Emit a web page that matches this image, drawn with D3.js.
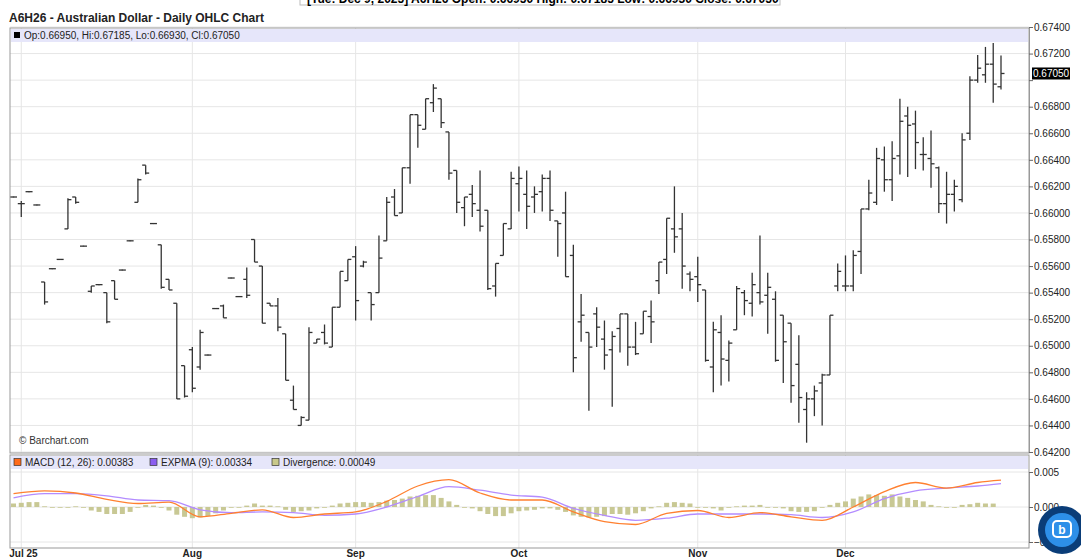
<!DOCTYPE html>
<html>
<head>
<meta charset="utf-8">
<script src="https://d3js.org/d3.v7.min.js"></script>
<style>
  body { margin: 0; background: #fff; font-family: "Liberation Sans", Arial, sans-serif; }
  svg text { font-family: "Liberation Sans", Arial, sans-serif; }
</style>
</head>
<body>
<svg id="chart" width="1081" height="560"></svg>
<script>
// OHLC per trading day, in order (index = bar position)
const opens = [0.6612,0.6607,0.6616,0.6606,0.6548,0.6558,0.6565,0.6588,0.6612,0.6575,0.6541,0.6546,0.6540,0.6549,0.6557,0.6579,0.6608,0.6636,0.6592,0.6576,0.6550,0.6532,0.6485,0.6497,0.6484,0.6493,0.6528,0.6530,0.6551,0.6537,0.6550,0.6580,
  0.6560,0.6532,0.6530,0.6509,0.6459,0.6440,0.6444,0.6502,0.6510,0.6499,0.6529,0.6549,0.6567,0.6560,0.6540,0.6540,0.6579,0.6612,0.6600,0.6634,0.6674,0.6663,0.6683,0.6686,0.6661,0.6632,0.6604,0.6614,0.6602,0.6602,0.6545,
  0.6568,0.6588,0.6622,0.6614,0.6612,0.6616,0.6626,0.6594,0.6600,0.6568,0.6518,0.6510,0.6524,0.6505,0.6497,0.6513,0.6524,0.6499,0.6509,0.6522,0.6549,0.6565,0.6588,0.6588,0.6554,0.6552,0.6542,0.6484,0.6510,0.6489,0.6512,0.6540,0.6532,
  0.6540,0.6538,0.6535,0.6523,0.6517,0.6486,0.6452,0.6460,0.6472,0.6478,0.6545,0.6545,0.6545,0.6571,0.6603,0.6608,0.6640,0.6625,0.6643,0.6673,0.6667,0.6644,0.6641,0.6634,0.6607,0.6614,0.6610,0.6660,0.6700,0.6704,0.6712,0.66950];
const highs = [0.6612,0.6609,0.6616,0.6606,0.6548,0.6558,0.6565,0.6611,0.6612,0.6575,0.6545,0.6546,0.6540,0.6549,0.6557,0.6579,0.6626,0.6636,0.6592,0.6576,0.6550,0.6532,0.6485,0.6499,0.6512,0.6493,0.6528,0.6531,0.6551,0.6537,0.6559,0.6580,
  0.6560,0.6532,0.6536,0.6509,0.6470,0.6447,0.6514,0.6505,0.6516,0.6529,0.6556,0.6565,0.6575,0.6564,0.6540,0.6583,0.6612,0.6618,0.6634,0.6674,0.6674,0.6686,0.6697,0.6686,0.6661,0.6632,0.6612,0.6621,0.6632,0.6602,0.6562,
  0.6592,0.6631,0.6635,0.6632,0.6620,0.6629,0.6632,0.6594,0.6616,0.6576,0.6539,0.6510,0.6529,0.6519,0.6511,0.6524,0.6524,0.6518,0.6526,0.6534,0.6563,0.6596,0.6620,0.6600,0.6556,0.6567,0.6542,0.6518,0.6523,0.6504,0.6545,0.6542,0.6555,
  0.6583,0.6555,0.6541,0.6523,0.6517,0.6508,0.6465,0.6470,0.6479,0.6523,0.6562,0.6568,0.6572,0.6603,0.6625,0.6649,0.6650,0.6654,0.6686,0.6680,0.6677,0.6657,0.6662,0.6635,0.6631,0.6625,0.6660,0.6703,0.6719,0.6725,0.6728,0.67185];
const lows = [0.6612,0.6597,0.6616,0.6606,0.6531,0.6558,0.6565,0.6588,0.6607,0.6575,0.6540,0.6546,0.6517,0.6535,0.6557,0.6579,0.6608,0.6629,0.6592,0.6543,0.6542,0.6460,0.6461,0.6465,0.6482,0.6493,0.6528,0.6521,0.6551,0.6537,0.6536,0.6563,
  0.6517,0.6530,0.6511,0.6474,0.6452,0.6440,0.6444,0.6502,0.6501,0.6499,0.6529,0.6549,0.6519,0.6559,0.6519,0.6540,0.6579,0.6598,0.6600,0.6622,0.6649,0.6663,0.6676,0.6664,0.6625,0.6600,0.6590,0.6597,0.6586,0.6542,0.6537,
  0.6568,0.6588,0.6601,0.6588,0.6600,0.6601,0.6594,0.6567,0.6552,0.6480,0.6503,0.6451,0.6499,0.6482,0.6454,0.6495,0.6485,0.6493,0.6509,0.6502,0.6539,0.6554,0.6570,0.6543,0.6541,0.6533,0.6488,0.6465,0.6470,0.6473,0.6512,0.6523,0.6522,
  0.6531,0.6509,0.6488,0.6472,0.6457,0.6442,0.6427,0.6447,0.6440,0.6478,0.6541,0.6541,0.6541,0.6554,0.6602,0.6606,0.6616,0.6609,0.6629,0.6627,0.6633,0.6632,0.6619,0.6600,0.6592,0.6601,0.6608,0.6655,0.6698,0.6698,0.6683,0.66930];
const closes = [0.6612,0.6607,0.6616,0.6606,0.6533,0.6558,0.6565,0.6610,0.6608,0.6575,0.6545,0.6546,0.6518,0.6535,0.6557,0.6579,0.6625,0.6630,0.6592,0.6544,0.6542,0.6460,0.6462,0.6468,0.6510,0.6493,0.6528,0.6521,0.6551,0.6537,0.6538,0.6563,
  0.6517,0.6530,0.6514,0.6474,0.6452,0.6446,0.6510,0.6505,0.6502,0.6529,0.6556,0.6565,0.6534,0.6563,0.6531,0.6566,0.6608,0.6598,0.6634,0.6674,0.6666,0.6686,0.6694,0.6668,0.6630,0.6608,0.6612,0.6607,0.6590,0.6543,0.6562,
  0.6592,0.6626,0.6626,0.6605,0.6614,0.6626,0.6602,0.6592,0.6552,0.6491,0.6523,0.6499,0.6514,0.6493,0.6507,0.6524,0.6499,0.6494,0.6526,0.6518,0.6563,0.6596,0.6582,0.6560,0.6550,0.6546,0.6489,0.6512,0.6490,0.6502,0.6543,0.6534,0.6546,
  0.6533,0.6544,0.6489,0.6503,0.6470,0.6461,0.6460,0.6466,0.6478,0.6523,0.6556,0.6545,0.6568,0.6603,0.6615,0.6641,0.6625,0.6641,0.6669,0.6666,0.6653,0.6644,0.6637,0.6607,0.6614,0.6620,0.6655,0.6700,0.6709,0.6712,0.6697,0.67050];

// MACD panel, sampled every 4th bar (last at bar 127)
const macdIdx = [0,4,8,12,16,20,24,28,32,36,40,44,48,52,56,60,64,68,72,76,80,84,88,92,96,100,104,108,112,116,120,124,127];
const macdLine = [0.0019,0.0023,0.0020,0.0011,0.0005,0.0007,-0.0014,-0.0009,-0.0004,-0.0015,-0.0010,-0.0007,0.0008,0.0030,0.0039,0.0020,0.0010,0.0010,-0.0007,-0.0021,-0.0025,-0.0009,-0.0005,-0.0015,-0.0008,-0.0014,-0.0019,0.0000,0.0022,0.0035,0.0027,0.0035,0.00383];
const signalLine = [0.0013,0.0019,0.0019,0.0016,0.0010,0.0009,-0.0004,-0.0008,-0.0007,-0.0008,-0.0012,-0.0010,0.0000,0.0015,0.0029,0.0024,0.0017,0.0014,-0.0002,-0.0012,-0.0019,-0.0016,-0.0010,-0.0010,-0.0010,-0.0011,-0.0015,-0.0007,0.0012,0.0023,0.0027,0.0030,0.00334];
const divergence = [0.0005,0.0006,0.0007,0.0007,0.0001,0,-0.0001,0,0.0001,0,-0.0005,-0.0007,-0.0010,-0.0010,-0.0010,-0.0007,-0.0001,0.0003,0.0002,-0.0001,-0.0005,-0.0011,-0.0014,-0.0016,-0.0015,-0.0013,-0.0009,-0.0005,-0.0001,0,0.0002,0.0005,
  0.0002,0.0002,0.0001,-0.0004,-0.0007,-0.0006,-0.0005,-0.0002,0,0.0002,0.0005,0.0006,0.0007,0.0007,0.0006,0.0007,0.0009,0.0010,0.0012,0.0015,0.0016,0.0017,0.0017,0.0013,0.0008,0.0003,0,-0.0002,-0.0006,-0.0010,-0.0013,
  -0.0013,-0.0009,-0.0006,-0.0005,-0.0004,-0.0002,-0.0002,-0.0004,-0.0007,-0.0012,-0.0014,-0.0015,-0.0014,-0.0013,-0.0010,-0.0010,-0.0011,-0.0009,-0.0006,-0.0002,0.0001,0.0006,0.0007,0.0006,0.0005,0,0,-0.0002,-0.0005,0,0.0001,0.0002,
  0.0002,0.0003,0,0,-0.0002,-0.0006,-0.0007,-0.0007,-0.0006,-0.0001,0.0003,0.0006,0.0008,0.0012,0.0015,0.0018,0.0017,0.0016,0.0018,0.0015,0.0013,0.0010,0.0008,0.0003,0.0001,-0.0001,-0.0001,0.0003,0.0004,0.0006,0.0005,0.00049];

const monthIdx = [1, 23, 44, 65, 88, 107];
const monthLabels = ["Jul 25", "Aug", "Sep", "Oct", "Nov", "Dec"];
const priceTicks = [0.674,0.672,0.670,0.668,0.666,0.664,0.662,0.660,0.658,0.656,0.654,0.652,0.650,0.648,0.646,0.644,0.642];
const macdTicks = [0.005, 0, -0.005];

const svg = d3.select('#chart');
const left = 10, right = 1029;
const x = d3.scaleLinear().domain([0, 127]).range([13.5, 1001]);
const y = d3.scaleLinear().domain([0.642, 0.674]).range([452, 27]);
const ym = d3.scaleLinear().domain([-0.005, 0.005]).range([542, 472]);

// top header (cut off by the page edge, as in the screenshot)
svg.append('rect').attr('x', 300).attr('y', -10).attr('width', 480).attr('height', 15)
  .attr('fill', '#fff').attr('stroke', '#bbb');
svg.append('text').attr('x', 307).attr('y', 3).attr('font-size', 12).attr('font-weight', 'bold')
  .text('[Tue: Dec 9, 2025] A6H26 Open: 0.66950 High: 0.67185 Low: 0.66930 Close: 0.67050');
svg.append('text').attr('x', 9).attr('y', 22).attr('font-size', 12).attr('font-weight', 'bold')
  .attr('fill', '#222').text('A6H26 - Australian Dollar - Daily OHLC Chart');

// ---- price panel
const pTop = 28, pBot = 453;
svg.append('g').selectAll('line').data(priceTicks).join('line')
  .attr('x1', left).attr('x2', right).attr('y1', d => y(d)).attr('y2', d => y(d))
  .attr('stroke', '#e6e6e6');
svg.append('g').selectAll('line').data(monthIdx).join('line')
  .attr('x1', d => x(d)).attr('x2', d => x(d)).attr('y1', pTop).attr('y2', pBot)
  .attr('stroke', '#e6e6e6');
svg.append('rect').attr('x', left + 1).attr('y', pTop + 1).attr('width', right - left - 2).attr('height', 13)
  .attr('fill', '#e6e6fa');
svg.append('rect').attr('x', 14).attr('y', 32).attr('width', 6).attr('height', 6).attr('fill', '#000');
svg.append('text').attr('x', 24).attr('y', 39).attr('font-size', 10).attr('fill', '#222')
  .text('Op:0.66950, Hi:0.67185, Lo:0.66930, Cl:0.67050');

const bars = svg.append('g').attr('stroke', '#333').attr('stroke-width', 1.3);
opens.forEach((o, i) => {
  const cx = x(i);
  let yh = y(highs[i]), yl = y(lows[i]);
  if (yl - yh < 1) { yh -= 0.5; yl += 0.5; }
  bars.append('line').attr('x1', cx).attr('x2', cx).attr('y1', yh).attr('y2', yl);
  bars.append('line').attr('x1', cx - 3.5).attr('x2', cx).attr('y1', y(o)).attr('y2', y(o));
  bars.append('line').attr('x1', cx).attr('x2', cx + 3.5).attr('y1', y(closes[i])).attr('y2', y(closes[i]));
});

svg.append('rect').attr('x', left).attr('y', pTop).attr('width', right - left).attr('height', pBot - pTop)
  .attr('fill', 'none').attr('stroke', '#999');
svg.append('text').attr('x', 19).attr('y', 444).attr('font-size', 10).attr('fill', '#333').text('© Barchart.com');

const last = closes[closes.length - 1];
const yAxis = svg.append('g').attr('transform', `translate(${right},0)`)
  .call(d3.axisRight(y).tickValues(priceTicks).tickFormat(d3.format('.5f')).tickSize(4));
yAxis.select('.domain').attr('stroke', '#999');
yAxis.selectAll('text').attr('font-size', 10).attr('fill', '#222').attr('x', 5);
yAxis.selectAll('line').attr('stroke', '#666');
// the last-price marker covers the tick label next to it
yAxis.selectAll('.tick').filter(d => Math.abs(y(d) - y(last)) < 10).select('text').remove();

svg.append('rect').attr('x', right + 3).attr('y', y(last) - 6).attr('width', 38).attr('height', 12).attr('fill', '#000');
svg.append('text').attr('x', right + 4).attr('y', y(last) + 4).attr('font-size', 10).attr('fill', '#fff')
  .text(d3.format('.5f')(last));

// ---- MACD panel
const mTop = 455, mBot = 548;
svg.append('g').selectAll('line').data(macdTicks).join('line')
  .attr('x1', left).attr('x2', right).attr('y1', d => ym(d)).attr('y2', d => ym(d))
  .attr('stroke', '#e6e6e6');
svg.append('g').selectAll('line').data(monthIdx).join('line')
  .attr('x1', d => x(d)).attr('x2', d => x(d)).attr('y1', mTop).attr('y2', mBot)
  .attr('stroke', '#e6e6e6');
svg.append('rect').attr('x', left + 1).attr('y', mTop + 1).attr('width', right - left - 2).attr('height', 13)
  .attr('fill', '#e6e6fa');
const legend = [
  { t: 'MACD (12, 26): 0.00383', c: '#ff6a1a', x: 14 },
  { t: 'EXPMA (9): 0.00334', c: '#8a5cf0', x: 150 },
  { t: 'Divergence: 0.00049', c: '#c8c88a', x: 272 }
];
legend.forEach(l => {
  svg.append('rect').attr('x', l.x).attr('y', 458.5).attr('width', 7).attr('height', 7)
    .attr('fill', l.c).attr('stroke', '#333').attr('stroke-width', 0.7);
  svg.append('text').attr('x', l.x + 11).attr('y', 465.5).attr('font-size', 10).attr('fill', '#222').text(l.t);
});

svg.append('g').selectAll('rect').data(divergence).join('rect')
  .attr('x', (d, i) => x(i) - 2.5).attr('width', 5)
  .attr('y', d => Math.min(ym(d), ym(0))).attr('height', d => Math.max(0.8, Math.abs(ym(d) - ym(0))))
  .attr('fill', '#c8c894');

const lineGen = arr => d3.line().x((d, i) => x(macdIdx[i])).y(d => ym(d)).curve(d3.curveMonotoneX)(arr);
svg.append('path').attr('d', lineGen(signalLine)).attr('fill', 'none').attr('stroke', '#b38cff').attr('stroke-width', 1.3);
svg.append('path').attr('d', lineGen(macdLine)).attr('fill', 'none').attr('stroke', '#ff8030').attr('stroke-width', 1.3);

svg.append('rect').attr('x', left).attr('y', mTop).attr('width', right - left).attr('height', mBot - mTop)
  .attr('fill', 'none').attr('stroke', '#999');
const mAxis = svg.append('g').attr('transform', `translate(${right},0)`)
  .call(d3.axisRight(ym).tickValues(macdTicks).tickFormat(d3.format('.3f')).tickSize(4));
mAxis.select('.domain').attr('stroke', '#999');
mAxis.selectAll('text').attr('font-size', 10).attr('fill', '#222').attr('x', 5);
mAxis.selectAll('line').attr('stroke', '#666');

svg.append('g').selectAll('text').data(monthIdx).join('text')
  .attr('x', d => x(d)).attr('y', 557).attr('text-anchor', (d, i) => i === 0 ? 'start' : 'middle')
  .attr('dx', (d, i) => i === 0 ? -12 : 0)
  .attr('font-size', 10).attr('font-weight', 'bold').attr('fill', '#222')
  .text((d, i) => monthLabels[i]);

// chat bubble badge
const badge = svg.append('g').attr('transform', 'translate(1062,530)');
badge.append('circle').attr('r', 24).attr('fill', '#0a3d78');
badge.append('circle').attr('r', 17).attr('fill', '#2d8fe8');
badge.append('rect').attr('x', -9).attr('y', -9).attr('width', 18).attr('height', 16).attr('rx', 4)
  .attr('fill', 'none').attr('stroke', '#fff').attr('stroke-width', 2);
badge.append('text').attr('x', 0).attr('y', 4).attr('text-anchor', 'middle').attr('font-size', 12)
  .attr('font-weight', 'bold').attr('fill', '#fff').text('b');
</script>
</body>
</html>
